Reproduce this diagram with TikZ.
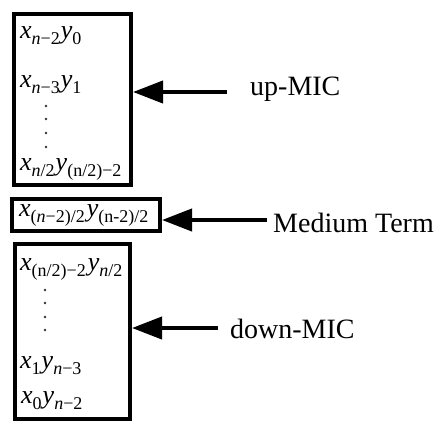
\documentclass[tikz,border=0pt]{standalone}
\usepackage{fontspec}
\setmainfont{Liberation Serif}[ItalicFont={Liberation Serif Italic}]
\newfontfamily\itfont{Liberation Serif Italic}
\usetikzlibrary{arrows.meta}
\newcommand\sbx[1]{\raisebox{-6pt}{\fontsize{18}{18}\selectfont #1}}
\newcommand\mi[1]{{\itfont #1}}
\tikzset{
  termbox/.style={draw, line width=4pt, inner sep=0pt},
  term/.style={anchor=base west, inner sep=0pt, font=\fontsize{26}{26}\selectfont},
  lbl/.style={anchor=base west, inner sep=0pt, font=\fontsize{28}{28}\selectfont},
  arr/.style={line width=4pt, -{Triangle[length=30pt,width=22pt]}},
  dotc/.style={fill=black!80, circle, inner sep=0pt, minimum size=2.6pt}
}
\begin{document}
\begin{tikzpicture}[x=1pt,y=-1pt]
\useasboundingbox (0,0) rectangle (438,421);
% boxes
\node[termbox, minimum width=117pt, minimum height=171pt] (up) at (72.5,99.5) {};
\node[termbox, minimum width=148pt, minimum height=32pt] (med) at (86,215) {};
\node[termbox, minimum width=115pt, minimum height=175pt] (down) at (72.5,331.5) {};
% up box terms
\node[term] (u1) at (20,38) {\mi{x}\sbx{\mi{n}−2}\kern1pt\mi{y}\sbx{0}};
\node[term] (u2) at (20,87) {\mi{x}\sbx{\mi{n}−3}\kern1pt\mi{y}\sbx{1}};
\node[term] (u3) at (20,170) {\mi{x}\sbx{\mi{n}/2}\kern1pt\mi{y}\sbx{(n/2)−2}};
\foreach \yy [count=\i] in {106,119,133,147} \node[dotc] (ud\i) at (46,\yy) {};
% medium term
\node[term] (m1) at (19,216) {\mi{x}\sbx{(\mi{n}−2)/2}\kern2pt\mi{y}\sbx{(n-2)/2}};
% down box terms
\node[term] (d1) at (20,270) {\mi{x}\sbx{(n/2)−2}\kern2pt\mi{y}\sbx{\mi{n}/2}};
\foreach \yy [count=\i] in {290,303,317,330} \node[dotc] (dd\i) at (45,\yy) {};
\node[term] (d2) at (20,368) {\mi{x}\sbx{1}\kern1pt\mi{y}\sbx{\mi{n}−3}};
\node[term] (d3) at (21,403) {\mi{x}\sbx{0}\kern1pt\mi{y}\sbx{\mi{n}−2}};
% labels
\node[lbl] (lup) at (250,95) {up-MIC};
\node[lbl] (lmed) at (273,232) {Medium Term};
\node[lbl] (ldown) at (230,338) {down-MIC};
% arrows
\coordinate (t1) at (227,92);
\coordinate (t2) at (267,220);
\coordinate (t3) at (218,328);
\draw[arr] (t1) -- (t1 -| up.east);
\draw[arr] (t2) -- (t2 -| med.east);
\draw[arr] (t3) -- (t3 -| down.east);
\end{tikzpicture}
\end{document}
